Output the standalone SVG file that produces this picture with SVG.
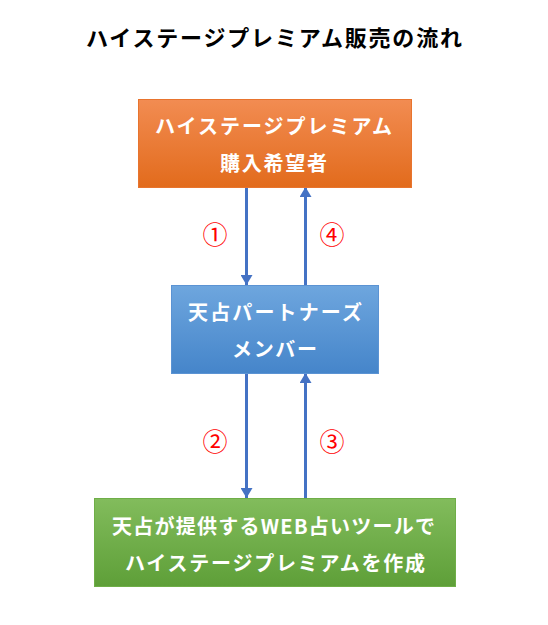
<svg xmlns="http://www.w3.org/2000/svg" width="548" height="625" viewBox="0 0 548 625">
<style>
.t{font-family:"Noto Sans CJK JP","Noto Sans",sans-serif;font-weight:bold;fill:#fff;font-size:20px;text-anchor:middle;dominant-baseline:central}
.title{font-family:"Noto Sans CJK JP","Noto Sans",sans-serif;font-weight:bold;fill:#000;font-size:22px;text-anchor:middle;dominant-baseline:central}
.n{font-family:"Noto Sans CJK JP","Noto Sans",sans-serif;fill:#f00;font-size:25px;text-anchor:middle;dominant-baseline:central}
.c{stroke:#4472C4;stroke-width:3;fill:none}
</style>
<defs>
<linearGradient id="go" x1="0" y1="0" x2="0" y2="1"><stop offset="0" stop-color="#F28C52"/><stop offset="1" stop-color="#E26B1C"/></linearGradient>
<linearGradient id="gb" x1="0" y1="0" x2="0" y2="1"><stop offset="0" stop-color="#6EA6DE"/><stop offset="1" stop-color="#4585CA"/></linearGradient>
<linearGradient id="gg" x1="0" y1="0" x2="0" y2="1"><stop offset="0" stop-color="#82BC5C"/><stop offset="1" stop-color="#5E9F38"/></linearGradient>
<marker id="ah" viewBox="0 0 10 12" refX="10" refY="6" markerWidth="10" markerHeight="12" markerUnits="userSpaceOnUse" orient="auto"><path d="M0,0 L10,6 L0,12 Z" fill="#4472C4"/></marker>
</defs>
<text class="title" x="274" y="36" textLength="376" lengthAdjust="spacing">ハイステージプレミアム販売の流れ</text>
<g id="connectors">
<line class="c" x1="246.5" y1="187" x2="246.5" y2="285" marker-end="url(#ah)"/>
<line class="c" x1="305.5" y1="285" x2="305.5" y2="187" marker-end="url(#ah)"/>
<line class="c" x1="246.5" y1="373" x2="246.5" y2="498" marker-end="url(#ah)"/>
<line class="c" x1="305.5" y1="498" x2="305.5" y2="373" marker-end="url(#ah)"/>
<text class="n" x="215" y="233">①</text>
<text class="n" x="332" y="233">④</text>
<text class="n" x="215" y="440">②</text>
<text class="n" x="332" y="440">③</text>
</g>
<g id="buyer">
<rect x="138.5" y="99.5" width="273" height="88" fill="url(#go)" stroke="#E8742E" stroke-width="1"/>
<text class="t" x="273.5" y="125" textLength="237" lengthAdjust="spacing">ハイステージプレミアム</text>
<text class="t" x="273.5" y="162" textLength="107" lengthAdjust="spacing">購入希望者</text>
</g>
<g id="partner">
<rect x="171.5" y="285.5" width="207" height="88" fill="url(#gb)" stroke="#5B93D3" stroke-width="1"/>
<text class="t" x="275" y="311" textLength="174" lengthAdjust="spacing">天占パートナーズ</text>
<text class="t" x="274.5" y="348" textLength="85" lengthAdjust="spacing">メンバー</text>
</g>
<g id="tool">
<rect x="94.5" y="498.5" width="361" height="88" fill="url(#gg)" stroke="#6FAE48" stroke-width="1"/>
<text class="t" x="273.5" y="525" textLength="323" lengthAdjust="spacing">天占が提供するWEB占いツールで</text>
<text class="t" x="275" y="562" textLength="300" lengthAdjust="spacing">ハイステージプレミアムを作成</text>
</g>
</svg>
